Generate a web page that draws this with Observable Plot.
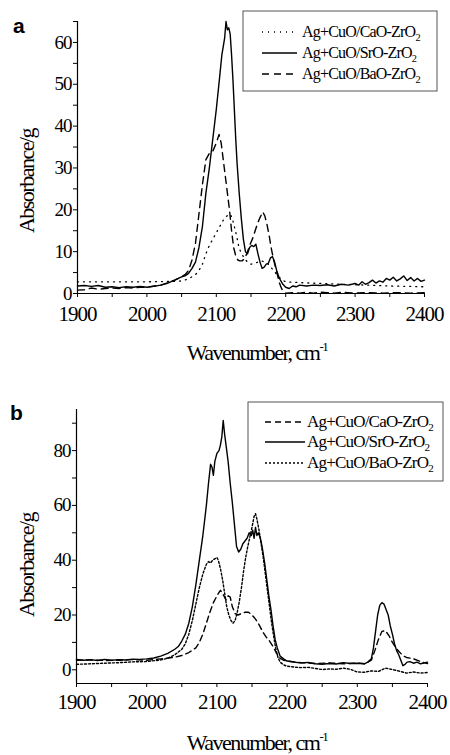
<!DOCTYPE html>
<html><head><meta charset="utf-8">
<script src="https://cdn.jsdelivr.net/npm/d3@7"></script>
<script src="https://cdn.jsdelivr.net/npm/@observablehq/plot@0.6"></script>
<style>
body{margin:0;background:#fff;width:450px;height:755px;overflow:hidden}
#chart svg{display:block;background:#fff}
svg text{font-family:"Liberation Serif","DejaVu Serif",serif;}
.tick-x text{letter-spacing:-1px}
</style></head><body><div id="chart"></div>
<script>
// ---------- Panel a data ----------
const legendA = ["Ag+CuO/CaO-ZrO", "Ag+CuO/SrO-ZrO", "Ag+CuO/BaO-ZrO"];
const aCaO_x = [1900,1950,2000,2040,2050,2060,2070,2075,2080,2085,2090,2095,2100,2105,2110,2115,2120,2123,2126,2129,2132,2135,2140,2145,2150,2155,2160,2165,2170,2175,2180,2185,2190,2195,2200,2220,2250,2300,2350,2400];
const aCaO_y = [2.8,2.8,2.8,2.9,3.0,3.5,4.5,5.5,7,9.5,11.5,13,14.5,16,17.5,18.5,19,18,16,14,11.5,10,8.5,7.5,7,7.2,7.5,7.8,7.5,7,6,5,4,3.2,2.8,2.6,2.4,2.1,1.8,1.6];
const aSrO_x = [1900,1910,1920,1930,1940,1950,1960,1970,1980,1990,2000,2010,2020,2030,2040,2050,2055,2060,2065,2070,2075,2080,2085,2090,2095,2100,2105,2108,2110,2112,2114,2116,2118,2120,2122,2124,2126,2128,2130,2133,2136,2139,2142,2145,2148,2151,2154,2157,2160,2163,2166,2169,2172,2175,2178,2181,2184,2187,2190,2193,2196,2200,2205,2210,2215,2220,2230,2240,2250,2260,2270,2280,2290,2300,2305,2310,2315,2320,2325,2330,2335,2340,2345,2350,2355,2360,2365,2370,2375,2380,2385,2390,2395,2400];
const aSrO_y = [1.8,1.9,1.7,1.9,1.5,1.6,1.4,1.6,1.5,1.7,1.5,1.7,2.0,2.5,3.2,4.0,4.2,4.8,6.0,7.5,11,16,24,30,37,44,52,57,59,61,65,63,63.5,62,57,51,44,37,31,24,18,13,10,9.5,11,11.5,11.2,11.8,9.5,7.5,6,6.3,7,7.2,8.5,8.8,7.5,5.5,4,3,2.2,1.5,1.2,1.8,1.6,2.0,1.8,2.0,1.9,2.1,1.8,2.2,2.0,2.4,2.0,2.8,2.2,2.6,3.2,2.5,3.0,2.7,3.6,3.2,3.9,3.0,3.5,4.2,3.1,3.8,3.0,3.6,2.9,3.2];
const aBaO_x = [1900,1910,1920,1930,1940,1950,1960,1970,1980,1990,2000,2010,2020,2030,2040,2050,2055,2060,2065,2070,2075,2080,2085,2090,2095,2100,2104,2107,2110,2113,2116,2119,2122,2125,2128,2131,2134,2137,2140,2144,2148,2152,2156,2160,2164,2167,2170,2173,2176,2179,2182,2185,2188,2191,2194,2197,2200,2210,2220,2230,2240,2250,2260,2270,2280,2290,2300,2320,2340,2360,2380,2400];
const aBaO_y = [0.8,0.9,1.3,1.0,1.2,1.3,1.2,1.4,1.3,1.5,1.5,1.8,2.0,2.5,3.2,4.0,4.5,5.5,8,12,19,26,32,33.5,34,36,38,36,32,28,24,20,15,11,9,8,7.8,7.8,8.2,9.5,11.5,13,15,17,18.5,19.5,18.5,16.5,14,11,8.5,6.5,4.5,2.5,1.2,0.4,0.1,0.2,0.1,0.3,0.1,0.3,0.2,0.1,0.3,0.2,0.1,0.2,0.1,0.2,0.1,0.2];

// ---------- Panel b data ----------
const legendB = ["Ag+CuO/CaO-ZrO", "Ag+CuO/SrO-ZrO", "Ag+CuO/BaO-ZrO"];
const bCaO_x = [1900,1920,1940,1960,1980,2000,2020,2040,2050,2060,2070,2075,2080,2085,2090,2095,2100,2105,2110,2113,2116,2119,2122,2126,2130,2135,2140,2145,2150,2155,2160,2165,2170,2175,2180,2185,2190,2195,2200,2220,2240,2260,2280,2300,2310,2320,2325,2330,2335,2340,2345,2350,2355,2360,2365,2370,2380,2390,2400];
const bCaO_y = [3.5,3.6,3.4,3.5,3.7,3.5,4.0,4.6,5.2,6.3,8,10,13,17,21,24.5,27,29,27,25.5,27,26.5,23,20.5,20,20.5,21,21,20,18.5,16.5,14,12,10.5,8.5,6,4.2,3.5,3.2,2.6,2.3,2.5,2.2,2.5,2.2,3.5,7,11,14,14.3,12.5,10,8,6.5,5.2,4.5,4,3,2.3];
const bSrO_x = [1900,1910,1920,1930,1940,1950,1960,1970,1980,1990,2000,2010,2020,2030,2040,2045,2050,2055,2060,2065,2070,2075,2080,2085,2088,2091,2093,2095,2097,2100,2103,2105,2107,2109,2111,2113,2116,2119,2122,2125,2128,2131,2134,2137,2140,2143,2146,2149,2151,2153,2155,2157,2159,2162,2165,2168,2171,2174,2177,2180,2183,2186,2190,2195,2200,2210,2220,2230,2240,2250,2260,2270,2280,2290,2300,2310,2315,2320,2323,2326,2329,2332,2335,2338,2341,2344,2347,2350,2353,2356,2359,2362,2365,2368,2371,2375,2380,2385,2390,2395,2400];
const bSrO_y = [3.8,3.5,3.7,3.4,3.8,3.5,3.7,3.6,3.9,3.8,4.0,4.3,5.0,6.0,7.5,8.5,10.5,13,17,23,31,40,49,60,68,75,74,71,76,79,80,82,85,91,86,82,76,68,61,53,45,43,44,46,47,48,50,49,51,48,52,49,50,48,44,39,33,27,22,16,11,8,5,4,3.2,2.8,2.5,2.7,2.2,2.0,2.3,2.1,2.6,2.3,2.4,2.2,2.8,4,8,14,20,23.5,24.5,24,22,20,16,13,9.5,7,5.5,3.5,1.5,2.0,2.8,3.0,2.4,2.8,2.2,2.5,2.8];
const bBaO_x = [1900,1920,1940,1960,1980,2000,2020,2030,2040,2050,2055,2060,2065,2070,2075,2080,2085,2088,2091,2094,2097,2100,2102,2105,2108,2111,2114,2117,2120,2123,2126,2129,2132,2135,2138,2141,2144,2147,2150,2153,2155,2157,2160,2163,2166,2169,2172,2175,2178,2181,2184,2187,2190,2195,2200,2210,2220,2230,2240,2250,2260,2270,2280,2290,2300,2310,2320,2330,2340,2350,2360,2370,2380,2390,2400];
const bBaO_y = [2.0,2.2,2.4,2.6,2.9,3.0,3.6,4.2,5.5,7.5,9.5,13,18,24,30,35,38.5,39.5,39,40,40.5,41,40,37,33,28,23,20,18,17,18,21,25,30,36,41,45,48.5,52,56,57,55,51,46,41,35,29,23,17,12,7.5,4.5,2.8,1.8,1.3,1.0,0.8,0.9,0.5,0.1,0.3,0.2,0.6,0.2,-0.8,-0.9,-0.4,-0.6,0.6,0.1,-0.5,-1.2,-0.8,-1.2,-1.0];

const xMajor = [1900,2000,2100,2200,2300,2400];
const xMinor = [1950,2050,2150,2250,2350];
const aYMajor = [0,10,20,30,40,50,60];
const aYMinor = [5,15,25,35,45,55,65];
const bYMajor = [0,20,40,60,80];
const bYMinor = [10,30,50,70,90];

function rows(xs, ys) { return xs.map((x, i) => ({x, y: ys[i]})); }

function panel(cfg) {
  const marks = [
    Plot.axisX({ticks: xMinor, tickSize: 4, tickFormat: () => "", label: null}),
    Plot.axisX({ticks: xMajor, tickSize: 4, tickPadding: cfg.tickPadX, fontSize: 21, tickFormat: d => String(d), label: null, className: "tick-x"}),
    Plot.axisY({ticks: cfg.yMinor, tickSize: 4, tickFormat: () => "", label: null}),
    Plot.axisY({ticks: cfg.yMajor, tickSize: 4, tickPadding: 2, fontSize: 19, tickFormat: d => String(d), label: null, className: "tick-x"}),
    Plot.ruleX([1900], {stroke: "#000", strokeWidth: 1.2}),
    Plot.ruleY([cfg.yDomain[0]], {stroke: "#000", strokeWidth: 1.2}),
    ...cfg.series.map(s => Plot.line(rows(s.x, s.y), {x: "x", y: "y", stroke: "#000", strokeWidth: s.w, strokeDasharray: s.dash}))
  ];
  const svg = Plot.plot({
    width: 450, height: cfg.height,
    marginLeft: cfg.ml, marginRight: cfg.mr, marginTop: cfg.mt, marginBottom: cfg.mb,
    x: {domain: [1900, 2400], label: null},
    y: {domain: cfg.yDomain, label: null},
    style: {fontFamily: "Liberation Serif", color: "#000", background: "#fff"},
    marks
  });
  const s = d3.select(svg);
  // panel letter
  s.append("text").attr("x", cfg.letterX).attr("y", cfg.letterY).attr("text-anchor", "start")
    .style("font-family", "Liberation Sans, Arial, sans-serif").style("font-weight", "bold").style("font-size", "21px")
    .text(cfg.letter);
  // x label
  const xl = s.append("text").attr("x", 257).attr("y", cfg.xLabelY).attr("text-anchor", "middle")
    .style("font-size", "22px").style("letter-spacing", "-1.5px");
  xl.append("tspan").text("Wavenumber, cm");
  xl.append("tspan").attr("dy", -9).style("font-size", "13px").text("-1");
  // y label
  s.append("text").attr("transform", `translate(34,${cfg.yLabelY}) rotate(-90)`).attr("text-anchor", "middle")
    .style("font-size", "22px").style("letter-spacing", "-1.5px").text("Absorbance/g");
  // legend
  const L = cfg.legend;
  s.append("rect").attr("x", L.x0).attr("y", L.y0).attr("width", L.x1 - L.x0).attr("height", L.y1 - L.y0)
    .attr("fill", "#fff").attr("stroke", "#555").attr("stroke-width", 1);
  L.rows.forEach((ry, i) => {
    const ser = cfg.series[L.order[i]];
    s.append("line").attr("x1", L.lx0).attr("x2", L.lx1).attr("y1", ry).attr("y2", ry)
      .attr("stroke", "#000").attr("stroke-width", ser.w).attr("stroke-dasharray", ser.dash || null);
    const t = s.append("text").attr("x", L.tx).attr("y", ry + 5).attr("text-anchor", "start")
      .style("font-size", L.fs + "px").style("letter-spacing", "-0.8px");
    t.append("tspan").text(cfg.labels[i]);
    t.append("tspan").attr("dy", 4).style("font-size", (L.fs * 0.65) + "px").text("2");
  });
  return svg;
}

const svgA = panel({
  height: 378, ml: 77, mr: 26, mt: 21, mb: 85, yDomain: [0, 65],
  yMajor: aYMajor, yMinor: aYMinor, tickPadX: 9,
  series: [
    {x: aCaO_x, y: aCaO_y, dash: "1,5", w: 1.3},
    {x: aSrO_x, y: aSrO_y, dash: null, w: 1.4},
    {x: aBaO_x, y: aBaO_y, dash: "7,5", w: 1.4}
  ],
  labels: legendA,
  legend: {x0: 243, y0: 11, x1: 437, y1: 91, rows: [32, 53, 74], order: [0, 1, 2], lx0: 262, lx1: 297, tx: 302, fs: 16},
  letter: "a", letterX: 13, letterY: 33, xLabelY: 360, yLabelY: 181
});
const svgB = panel({
  height: 377, ml: 76, mr: 23, mt: 31, mb: 72, yDomain: [-5, 95],
  yMajor: bYMajor, yMinor: bYMinor, tickPadX: 7,
  series: [
    {x: bCaO_x, y: bCaO_y, dash: "6,4", w: 1.4},
    {x: bSrO_x, y: bSrO_y, dash: null, w: 1.4},
    {x: bBaO_x, y: bBaO_y, dash: "2,2", w: 1.4}
  ],
  labels: legendB,
  legend: {x0: 248, y0: 24, x1: 443, y1: 103, rows: [44, 64, 85], order: [0, 1, 2], lx0: 265, lx1: 305, tx: 307, fs: 17},
  letter: "b", letterX: 10, letterY: 42, xLabelY: 372, yLabelY: 187
});
document.getElementById("chart").append(svgA, svgB);
</script></body></html>
